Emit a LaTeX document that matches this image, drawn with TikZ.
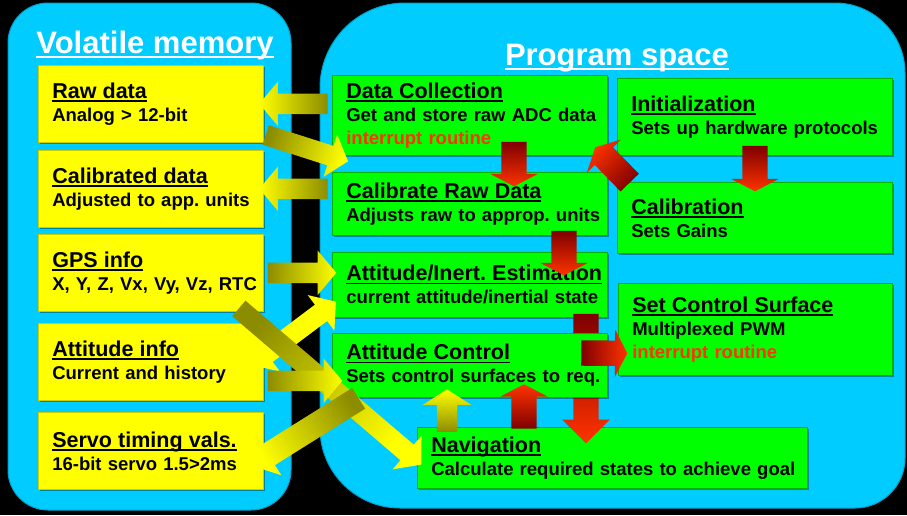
\documentclass[tikz,border=0pt]{standalone}
\usepackage{fontspec}
\setmainfont{Liberation Sans}
\usetikzlibrary{calc,shapes.arrows,shadows}
\frenchspacing

\definecolor{panel fill}{RGB}{0,204,255}
\definecolor{mem fill}{RGB}{255,255,0}
\definecolor{prog fill}{RGB}{0,255,0}
\definecolor{irq red}{RGB}{255,51,0}
\colorlet{yarrow tail}{yellow!55!black}
\colorlet{yarrow head}{yellow}
\colorlet{rarrow tail}{red!50!black}
\colorlet{rarrow head}{irq red}

\newcommand\boxfont{\fontsize{18.5}{23}\selectfont\bfseries}
\newcommand\boxttl[1]{{\fontsize{21.5}{23}\selectfont\setbox0\hbox{#1}\rlap{\rule[-3.5pt]{\wd0}{1.6pt}}\box0}}
\newcommand\boxsub[1]{\mbox{#1}}
\newcommand\headline[1]{{\setbox0\hbox{#1}\rlap{\rule[-5pt]{\wd0}{2.4pt}}\box0}}
\newcommand\irq{\textcolor{irq red}{interrupt routine}}

% fat shaded arrow between two points
\newcommand\fatarrow[3]{%
  \path let \p1=(#2), \p2=(#3),
    \n1={atan2(\y2-\y1,\x2-\x1)}, \n2={veclen(\x2-\x1,\y2-\y1)}, \n3={\n1-90} in
    node[#1, rotate=\n1, shading angle=\n3, minimum height=\n2] at ($(\p1)!.5!(\p2)$) {};}

\tikzset{panel/.style={fill=panel fill, draw=panel fill!80!black, line width=1pt},
  paneltitle/.style={text=white, anchor=base, font=\fontsize{31}{34}\selectfont\bfseries},
  infobox/.style={anchor=north west, inner xsep=14pt, inner ysep=0pt, align=left, font=\boxfont,
    drop shadow={shadow xshift=2pt, shadow yshift=-2pt, opacity=.35, fill=black}},
  membox/.style={infobox, fill=mem fill, draw=mem fill!80!black, line width=.6pt,
    minimum width=225pt, minimum height=77pt, text width=197pt},
  progbox/.style={infobox, fill=prog fill, draw=prog fill!70!black, line width=.6pt,
    minimum width=275pt, text width=247pt},
  fat/.style={single arrow, draw=none, outer sep=0pt, inner xsep=0pt, shading=axis},
  yarrow/.style={fat, inner ysep=10pt, single arrow head extend=12pt, single arrow tip angle=100,
    bottom color=yarrow tail, top color=yarrow head},
  rarrow/.style={fat, inner ysep=12.5pt, single arrow head extend=11pt, single arrow tip angle=125,
    bottom color=rarrow tail, top color=rarrow head},
  yarrowboth/.style={double arrow, draw=none, outer sep=0pt, inner xsep=0pt, inner ysep=10pt,
    double arrow head extend=12pt, double arrow tip angle=100, shading=axis,
    top color=yarrow head, middle color=yarrow tail, bottom color=yarrow head}}

\begin{document}
\begin{tikzpicture}[x=1pt,y=-1pt]
\fill[black] (0,0) rectangle (907,515);
\useasboundingbox (0,0) rectangle (907,515);

\draw[panel, rounded corners=40pt] (8,3) rectangle (291,510);
\draw[panel] (320,250) [rounded corners=85pt] -- (320,3) [rounded corners=70pt] -- (905,3)
  [rounded corners=50pt] -- (905,508) [rounded corners=80pt] -- (320,508) [sharp corners] -- cycle;
\node[paneltitle] (memtitle) at (155,53) {\headline{Volatile memory}};
\node[paneltitle] (progtitle) at (617,65) {\headline{Program space}};

\node[membox] (raw) at (38,65) {\boxttl{Raw data}\\\boxsub{Analog > 12-bit}};
\node[membox] (cal) at (38,150) {\boxttl{Calibrated data}\\\boxsub{Adjusted to app. units}};
\node[membox] (gps) at (38,234) {\boxttl{GPS info}\\\boxsub{X, Y, Z, Vx, Vy, Vz, RTC}};
\node[membox] (att) at (38,323) {\boxttl{Attitude info}\\\boxsub{Current and history}};
\node[membox] (servo) at (38,412) {\boxttl{Servo timing vals.}\\\boxsub{16-bit servo 1.5>2ms}};

\node[progbox, minimum height=80pt] (dc) at (332,75)
  {\boxttl{Data Collection}\\\boxsub{Get and store raw ADC data}\\\boxsub{\irq}};
\node[progbox, minimum height=63pt] (crd) at (332,172)
  {\boxttl{Calibrate Raw Data}\\\boxsub{Adjusts raw to approp. units}};
\node[progbox, minimum height=65pt] (aie) at (332,252)
  {\boxttl{Attitude/Inert. Estimation}\\\boxsub{current attitude/inertial state}};
\node[progbox, minimum width=390pt, text width=362pt, minimum height=61pt] (nav) at (417,427)
  {\boxttl{Navigation}\\\boxsub{Calculate required states to achieve goal}};
\node[progbox, minimum height=77pt] (init) at (617,78)
  {\boxttl{Initialization}\\\boxsub{Sets up hardware protocols}};
\node[progbox, minimum height=71pt] (calib) at (617,182) {\boxttl{Calibration}\\\boxsub{Sets Gains}};
\node[progbox, minimum width=274pt, text width=246pt, minimum height=92pt] (scs) at (618,283)
  {\boxttl{Set Control Surface}\\\boxsub{Multiplexed PWM}\\\boxsub{\irq}};

% runs behind the control box
\fatarrow{rarrow, single arrow tip angle=90}{$(aie.south west)+(254,-10)$}{$(nav.north west)+(169,10)$}
\node[progbox, minimum height=64pt] (ac) at (332,333)
  {\boxttl{Attitude Control}\\\boxsub{Sets control surfaces to req.}};

\fatarrow{yarrow}{dc.west |- raw.east}{raw.east}
\fatarrow{yarrow}{$(raw.south east)+(-2,-9)$}{$(crd.north west)+(12,-12)$}
\fatarrow{yarrow}{crd.west |- cal.east}{cal.east}
\fatarrow{yarrowboth}{$(att.north east)+(-12,42)$}{$(aie.south west)+(4,-16)$}
\fatarrow{yarrow}{gps.east}{aie.west |- gps.east}
\fatarrow{yarrow}{$(gps.south east)+(-28,-6)$}{$(nav.west)+(1,4)$}
\fatarrow{yarrow}{$(att.east)+(0,19)$}{$(ac.west)+(6,15.5)$}
\fatarrow{yarrow, inner ysep=12pt}{$(ac.south west)+(31,-2)$}{$(servo.east)+(-8,12)$}
\fatarrow{yarrow, single arrow head extend=14pt, single arrow tip angle=115}{$(nav.north west)+(30,8)$}{$(ac.south west)+(115,-5)$}

\fatarrow{rarrow}{$(dc.south west)+(182,-17)$}{$(crd.north west)+(182,11)$}
\fatarrow{rarrow}{$(crd.south west)+(232,-8)$}{$(aie.north west)+(232,20)$}
\fatarrow{rarrow}{$(calib.north west)+(15,3)$}{$(dc.south east)+(-10,-6)$}
\fatarrow{rarrow}{$(init.south west)+(138,-13)$}{$(calib.north west)+(138,6)$}
\fatarrow{rarrow}{$(ac.north west)+(246,20)$}{$(scs.west)+(6,24)$}
\fatarrow{rarrow}{$(nav.north west)+(107,5)$}{$(ac.south west)+(192,-10)$}
\end{tikzpicture}
\end{document}
